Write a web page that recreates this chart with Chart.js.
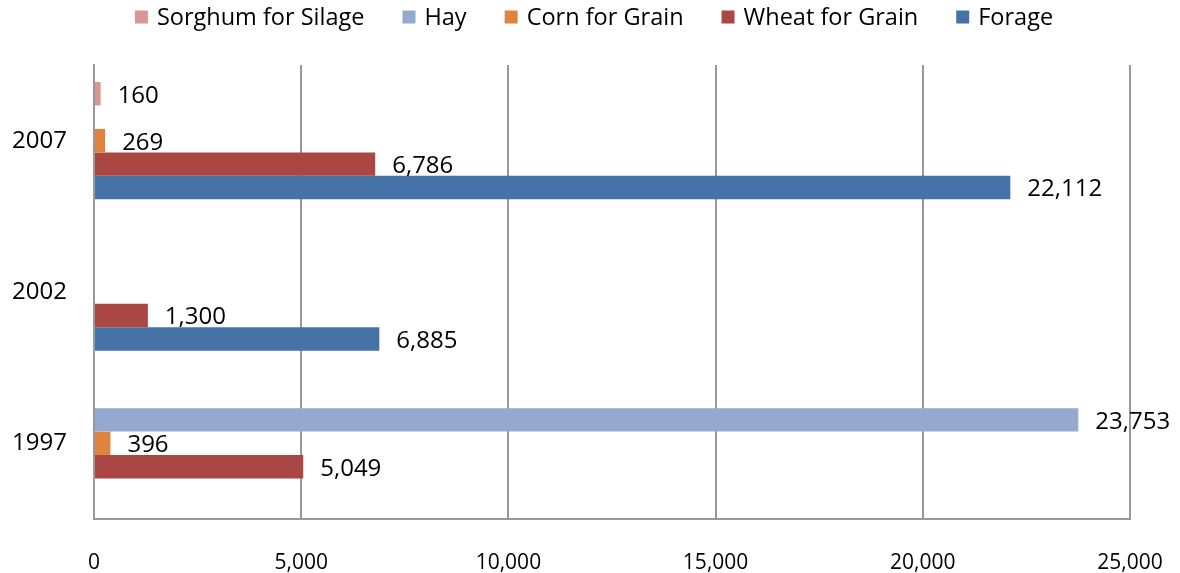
<!DOCTYPE html>
<html>
<head>
<meta charset="utf-8">
<script src="https://cdn.jsdelivr.net/npm/chart.js@4.4.1/dist/chart.umd.min.js"></script>
<style>
  html, body { margin: 0; padding: 0; background: #ffffff; }
  #wrap { width: 1180px; height: 573px; }
</style>
</head>
<body>
<div id="wrap"><canvas id="c" width="1180" height="573"></canvas></div>
<script>
const categories = ['2007', '2002', '1997'];
const seriesNames = ['Sorghum for Silage', 'Hay', 'Corn for Grain', 'Wheat for Grain', 'Forage'];
const sorghum = [160, null, null];
const hay = [null, null, 23753];
const corn = [269, null, 396];
const wheat = [6786, 1300, 5049];
const forage = [22112, 6885, null];
const xTicks = [0, 5000, 10000, 15000, 20000, 25000];
const seriesColors = ['#D99694', '#95A9D0', '#DE843E', '#AA4643', '#4572A7'];

const FONT = "'Open Sans', 'DejaVu Sans', sans-serif";
const fmt = v => v.toLocaleString('en-US');

const seriesValues = [sorghum, hay, corn, wheat, forage];

const datasets = seriesNames.map((name, i) => ({
  label: name,
  data: seriesValues[i],
  backgroundColor: seriesColors[i],
  borderWidth: 0,
  barPercentage: 1.0,
  categoryPercentage: 0.775
}));

const dataLabelPlugin = {
  id: 'dataLabels',
  afterDatasetsDraw(chart) {
    const ctx = chart.ctx;
    ctx.save();
    ctx.font = "24px " + FONT;
    ctx.fillStyle = '#000000';
    ctx.textAlign = 'left';
    ctx.textBaseline = 'middle';
    chart.data.datasets.forEach((ds, di) => {
      const meta = chart.getDatasetMeta(di);
      meta.data.forEach((el, j) => {
        const v = ds.data[j];
        if (v === null || v === undefined) return;
        ctx.fillText(fmt(v), el.x + 17, el.y + 2);
      });
    });
    ctx.restore();
  }
};

const legendPlugin = {
  id: 'customLegend',
  afterDraw(chart) {
    const ctx = chart.ctx;
    ctx.save();
    ctx.font = "23.5px " + FONT;
    const box = 13, gapText = 9, gapItem = 38;
    const widths = seriesNames.map(n => ctx.measureText(n).width);
    let total = 0;
    widths.forEach((w, i) => { total += box + gapText + w + (i < widths.length - 1 ? gapItem : 0); });
    let x = 594 - total / 2;
    const cy = 17;
    ctx.textBaseline = 'middle';
    ctx.textAlign = 'left';
    seriesNames.forEach((n, i) => {
      ctx.fillStyle = seriesColors[i];
      ctx.fillRect(x, cy - box / 2, box, box);
      ctx.fillStyle = '#000000';
      ctx.fillText(n, x + box + gapText, cy + 1);
      x += box + gapText + widths[i] + gapItem;
    });
    ctx.restore();
  }
};

new Chart(document.getElementById('c'), {
  type: 'bar',
  data: { labels: categories, datasets: datasets },
  options: {
    indexAxis: 'y',
    responsive: false,
    animation: false,
    layout: { padding: { top: 65, left: 0, right: 50, bottom: 0 } },
    plugins: {
      legend: { display: false },
      tooltip: { enabled: false }
    },
    scales: {
      x: {
        min: 0,
        max: 25000,
        afterBuildTicks(scale) { scale.ticks = xTicks.map(v => ({ value: v })); },
        afterFit(scale) { scale.height = 54; scale.paddingRight = 0; scale.paddingLeft = 0; },
        ticks: {
          color: '#000000',
          font: { family: FONT, size: 21 },
          padding: 31,
          maxRotation: 0,
          callback: v => fmt(v)
        },
        grid: { color: '#999999', lineWidth: 2, drawTicks: false },
        border: { color: '#999999', width: 2 }
      },
      y: {
        afterFit(scale) { scale.width = 94; scale.paddingTop = 0; scale.paddingBottom = 0; },
        ticks: {
          color: '#000000',
          font: { family: FONT, size: 24 },
          padding: 27
        },
        grid: { display: false, drawTicks: false },
        border: { color: '#999999', width: 2 }
      }
    }
  },
  plugins: [dataLabelPlugin, legendPlugin]
});
</script>
</body>
</html>
